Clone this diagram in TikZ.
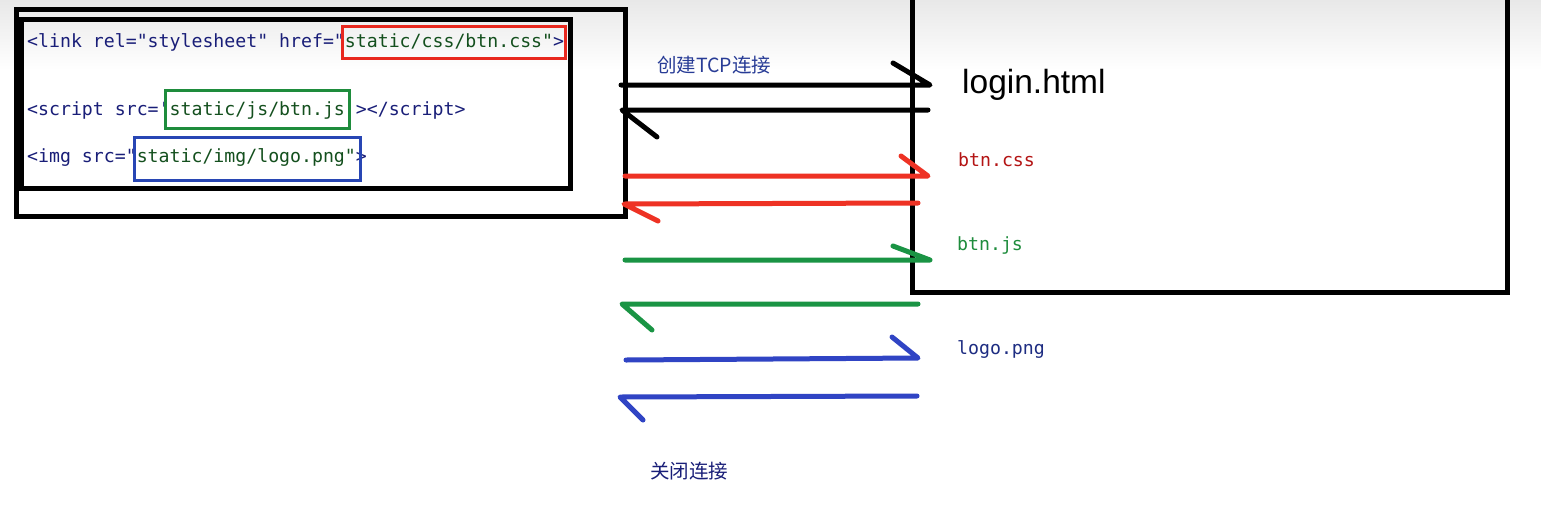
\documentclass[tikz,border=0pt]{standalone}
\usepackage{fontspec}
\setmainfont{Liberation Sans}
\setmonofont{DejaVu Sans Mono}
\newfontfamily\cjk{Noto Sans CJK SC}
\definecolor{arrred}{RGB}{238,50,36}
\definecolor{arrgreen}{RGB}{26,148,68}
\definecolor{arrblue}{RGB}{48,68,196}
\definecolor{boxred}{RGB}{232,40,30}
\definecolor{boxgreen}{RGB}{30,140,60}
\definecolor{boxblue}{RGB}{40,70,180}
\definecolor{tagnavy}{RGB}{25,30,120}
\definecolor{valgreen}{RGB}{20,80,30}
\definecolor{txtred}{RGB}{180,20,20}
\definecolor{txtgreen}{RGB}{30,140,60}
\definecolor{txtblue}{RGB}{30,45,130}
\definecolor{cjkblue}{RGB}{40,60,150}
\definecolor{topgray}{RGB}{232,232,232}
\tikzset{
  frame/.style={draw=black,line width=5pt},
  hlbox/.style={line width=3pt},
  code/.style={anchor=west,inner sep=0pt,font=\ttfamily\fontsize{18.2}{20}\selectfont,text=tagnavy},
  label/.style={anchor=west,inner sep=0pt,font=\ttfamily\fontsize{18.2}{20}\selectfont},
  stroke/.style={line width=5pt,line cap=round,line join=round},
  cjklabel/.style={anchor=west,inner sep=0pt,font=\cjk\fontsize{19.5}{22}\selectfont},
}
\begin{document}
\begin{tikzpicture}[x=1pt,y=-1pt]
\useasboundingbox (0,0) rectangle (1541,509);
\fill[white] (0,0) rectangle (1541,509);
\shade[top color=topgray,bottom color=white] (0,0) rectangle (1541,70);
% left frames
\draw[frame] (16,9) rectangle (625,216);
\draw[frame] (21,19) rectangle (570,188);
% code lines
\node[code] (l1) at (27,42) {<link rel="stylesheet" href="\textcolor{valgreen}{static/css/btn.css"}>};
\node[code] (l2) at (27,110) {<script src='\textcolor{valgreen}{static/js/btn.js}'></script>};
\node[code] (l3) at (27,157) {<img src="\textcolor{valgreen}{static/img/logo.png"}>};
% highlight boxes
\draw[hlbox,draw=boxred] (342,26) rectangle (565,58);
\draw[hlbox,draw=boxgreen] (165,90) rectangle (349,128);
\draw[hlbox,draw=boxblue] (134,137) rectangle (360,180);
% right frame
\draw[frame] (912,-10) -- (912,292) -- (1507,292) -- (1507,-10);
% labels
\node[anchor=west,inner sep=0pt,font=\fontsize{33.5}{36}\selectfont] (login) at (962,85) {login.html};
\node[label,text=txtred] (css) at (958,160) {btn.css};
\node[label,text=txtgreen] (js) at (957,245) {btn.js};
\node[label,text=txtblue] (png) at (957,349) {logo.png};
\node[cjklabel,text=cjkblue] (tcp) at (657,65) {创建TCP连接};
\node[cjklabel,text=tagnavy] (close) at (650,471) {关闭连接};
% arrow coordinates
\coordinate (k1s) at (621,85);  \coordinate (k1e) at (930,85);  \coordinate (k1b) at (893,63);
\coordinate (k2s) at (928,110); \coordinate (k2e) at (622,110); \coordinate (k2b) at (657,137);
\coordinate (r1s) at (625,176); \coordinate (r1e) at (928,176); \coordinate (r1b) at (901,156);
\coordinate (r2s) at (918,203); \coordinate (r2e) at (624,204); \coordinate (r2b) at (658,221);
\coordinate (g1s) at (625,260); \coordinate (g1e) at (930,260); \coordinate (g1b) at (893,246);
\coordinate (g2s) at (918,304); \coordinate (g2e) at (622,304); \coordinate (g2b) at (652,330);
\coordinate (b1s) at (626,360); \coordinate (b1e) at (918,358); \coordinate (b1b) at (892,337);
\coordinate (b2s) at (917,396); \coordinate (b2e) at (620,397); \coordinate (b2b) at (643,420);
% arrows
\draw[stroke,black] (k1s) -- (k1e) -- (k1b);
\draw[stroke,black] (k2s) -- (k2e) -- (k2b);
\draw[stroke,arrred] (r1s) -- (r1e) -- (r1b);
\draw[stroke,arrred] (r2s) -- (r2e) -- (r2b);
\draw[stroke,arrgreen] (g1s) -- (g1e) -- (g1b);
\draw[stroke,arrgreen] (g2s) -- (g2e) -- (g2b);
\draw[stroke,arrblue] (b1s) -- (b1e) -- (b1b);
\draw[stroke,arrblue] (b2s) -- (b2e) -- (b2b);
\end{tikzpicture}
\end{document}
